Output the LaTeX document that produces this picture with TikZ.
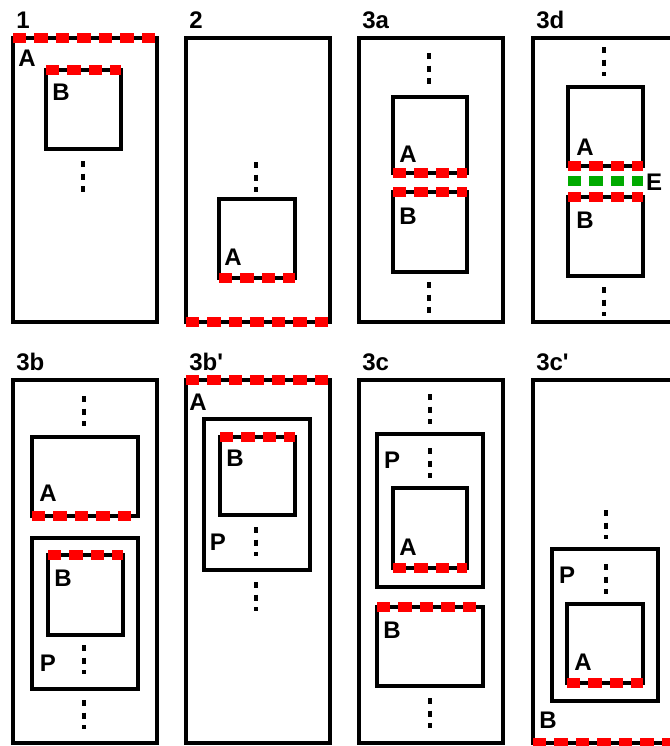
\documentclass[tikz,border=0pt]{standalone}
\usepackage{fontspec}
\setmainfont{Liberation Sans}
\definecolor{seamgreen}{RGB}{0,170,0}

\begin{document}
\begin{tikzpicture}[x=0.75pt,y=-0.75pt,
	box/.style={black, line width=2.4pt},
	seam/.style={red, line width=7.6pt, dash pattern=on 10.1pt off 6pt},
	gseam/.style={seamgreen, line width=7.6pt, dash pattern=on 10.1pt off 6pt},
	vdots/.style={black, line width=2.4pt, dash pattern=on 4.5pt off 4.9pt},
	lbl/.style={font=\fontsize{18}{21}\selectfont\bfseries, inner sep=0pt}]
	\useasboundingbox (0,0) rectangle (670,746);
	\clip (0,0) rectangle (670,746);
	% frames and titles
	\foreach \x/\y/\h/\t/\n in {13/38/284/1/1, 186/38/284/2/2, 359/38/284/3a/3, 533/38/284/3d/4,
		13/380/363/3b/5, 186/380/363/3b\textquotesingle/6, 359/380/363/3c/7, 533/380/363/3c\textquotesingle/8}{
		\draw[box] (\x,\y) rectangle ++(144,\h);
		\node[lbl, anchor=base west] (title\n) at (\x+3,\y-10) {\t};
	}
	% 1
	\draw[box] (46,70) rectangle (121,149);
	\draw[seam] (13,38) -- (157,38);
	\draw[seam] (46,70) -- (121,70);
	\draw[vdots] (83,161) -- (83,192);
	\node[lbl] (a1) at (27,58) {A};
	\node[lbl] (b1) at (61,92) {B};
	% 2
	\draw[box] (219,199) rectangle (295,278);
	\draw[seam] (219,278) -- (295,278);
	\draw[seam] (186,322) -- (330,322);
	\draw[vdots] (256,162) -- (256,192);
	\node[lbl] (a2) at (233,257) {A};
	% 3a
	\draw[box] (393,97) rectangle (467,173);
	\draw[box] (393,192) rectangle (467,272);
	\draw[seam] (393,173) -- (467,173);
	\draw[seam] (393,192) -- (467,192);
	\draw[vdots] (429,53) -- (429,84);
	\draw[vdots] (429,282) -- (429,313);
	\node[lbl] (a3) at (408,154) {A};
	\node[lbl] (b3) at (408,216) {B};
	% 3d
	\draw[box] (568,87) rectangle (643,166);
	\draw[box] (568,197) rectangle (643,276);
	\draw[seam] (568,166) -- (643,166);
	\draw[gseam] (568,181) -- (643,181);
	\draw[seam] (568,197) -- (643,197);
	\draw[vdots] (604,47) -- (604,76);
	\draw[vdots] (604,287) -- (604,316);
	\node[lbl] (a4) at (585,147) {A};
	\node[lbl] (b4) at (585,220) {B};
	\node[lbl] (e4) at (654,182) {E};
	% 3b
	\draw[box] (32,437) rectangle (138,516);
	\draw[box] (32,538) rectangle (138,689);
	\draw[box] (48,555) rectangle (123,635);
	\draw[seam] (32,516) -- (138,516);
	\draw[seam] (48,555) -- (123,555);
	\draw[vdots] (84,396) -- (84,426);
	\draw[vdots] (84,645) -- (84,674);
	\draw[vdots] (84,700) -- (84,729);
	\node[lbl] (a5) at (48,493) {A};
	\node[lbl] (b5) at (63,578) {B};
	\node[lbl] (p5) at (48,663) {P};
	% 3b'
	\draw[box] (204,419) rectangle (310,570);
	\draw[box] (220,437) rectangle (295,515);
	\draw[seam] (186,380) -- (330,380);
	\draw[seam] (220,437) -- (295,437);
	\draw[vdots] (256,527) -- (256,556);
	\draw[vdots] (256,582) -- (256,611);
	\node[lbl] (a6) at (198,402) {A};
	\node[lbl] (b6) at (235,458) {B};
	\node[lbl] (p6) at (218,542) {P};
	% 3c
	\draw[box] (377,434) rectangle (483,587);
	\draw[box] (393,488) rectangle (467,568);
	\draw[box] (377,607) rectangle (483,686);
	\draw[seam] (393,568) -- (467,568);
	\draw[seam] (377,607) -- (483,607);
	\draw[vdots] (430,394) -- (430,424);
	\draw[vdots] (430,448) -- (430,478);
	\draw[vdots] (430,698) -- (430,728);
	\node[lbl] (p7) at (392,460) {P};
	\node[lbl] (a7) at (408,547) {A};
	\node[lbl] (b7) at (392,630) {B};
	% 3c'
	\draw[box] (552,549) rectangle (658,701);
	\draw[box] (567,604) rectangle (643,683);
	\draw[seam] (567,683) -- (643,683);
	\draw[seam] (533,743) -- (677,743);
	\draw[vdots] (606,510) -- (606,539);
	\draw[vdots] (606,564) -- (606,594);
	\node[lbl] (p8) at (567,575) {P};
	\node[lbl] (a8) at (583,662) {A};
	\node[lbl] (b8) at (548,720) {B};
\end{tikzpicture}
\end{document}
